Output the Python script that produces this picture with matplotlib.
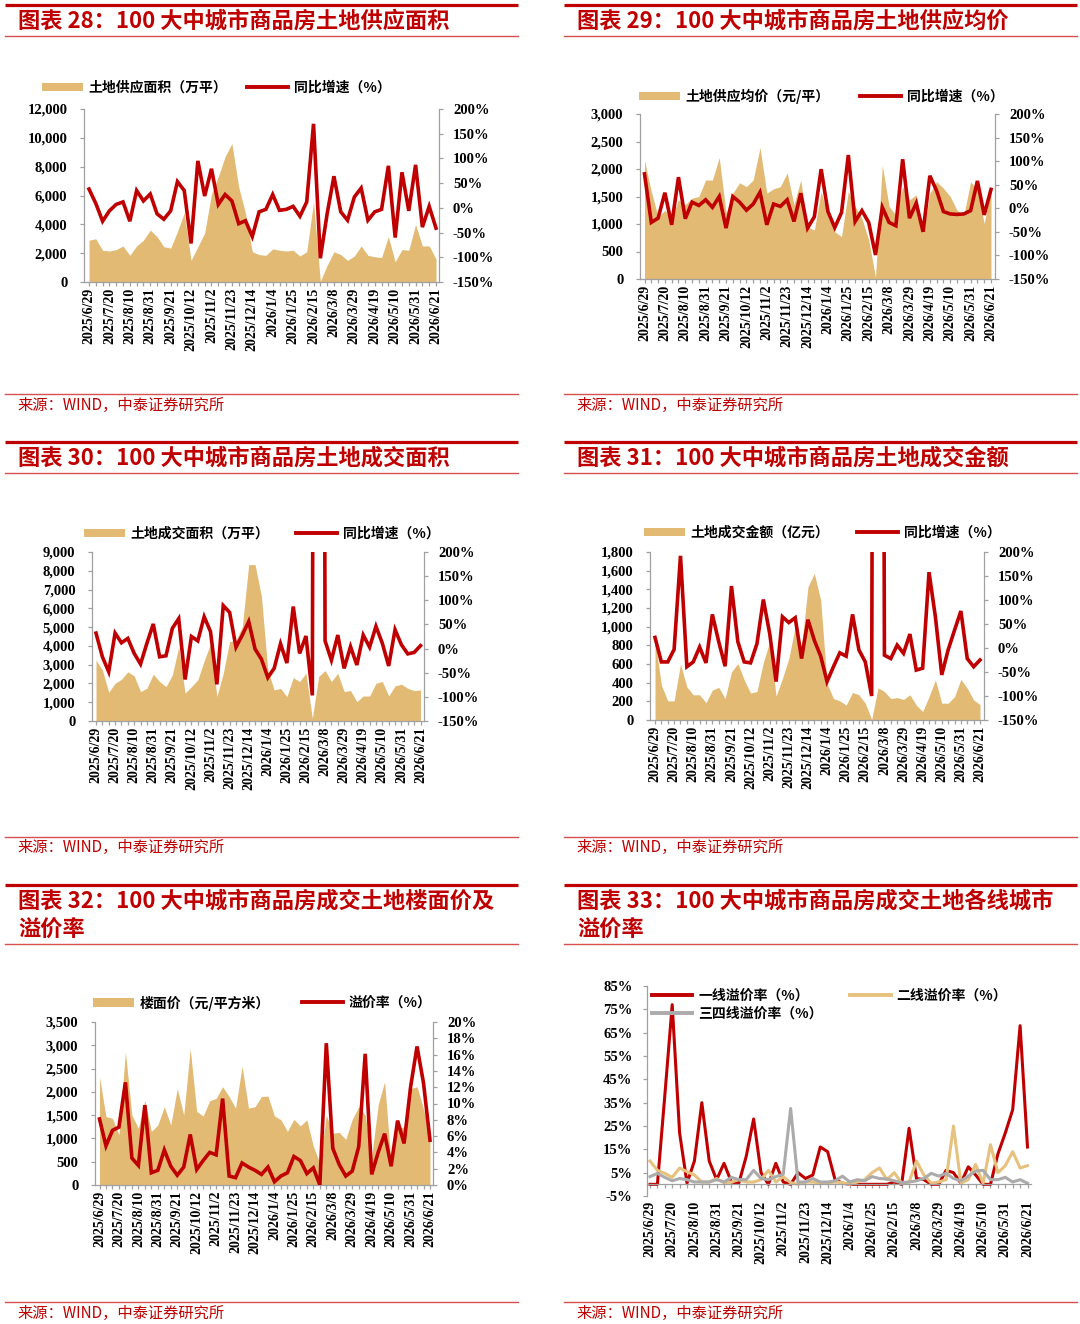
import matplotlib
matplotlib.use('Agg')
import matplotlib.pyplot as plt
from matplotlib.patches import Patch
from matplotlib.lines import Line2D
import numpy as np
import pandas as pd

# Configs
W, H = 1080, 1324
RED = '#C00000'
THIN_RED = '#D65050'
TAN = '#E2BA74'
GOLD = '#E6C27E'
GRAY = '#ABABAB'
AXIS = '#A0A0A0'
CJK = ['Noto Sans CJK SC', 'DejaVu Sans']
NUM = 'Liberation Serif'

plt.rcParams['font.family'] = CJK
plt.rcParams['axes.unicode_minus'] = False

# Weekly categories
dates = pd.date_range('2025-06-29', periods=52, freq='7D')
date_labels = [f'{d.year}/{d.month}/{d.day}' for d in dates]

# Chart 28: land supply area
supply_area = [2900, 3000, 2200, 2150, 2250, 2500, 1850, 2500, 2900, 3600,
               3150, 2450, 2350, 3500, 4800, 1500, 2450, 3400, 6100, 7300,
               8700, 9600, 6600, 4750, 2100, 1900, 1850, 2300, 2200, 2150,
               2200, 1800, 2100, 5550, 50, 1150, 2100, 1900, 1500, 1800,
               2500, 1850, 1750, 1700, 3150, 1400, 2250, 2200, 4000, 2500,
               2500, 1600]
supply_yoy = [38, 9, -27, -6, 7, 12, -27, 35, 14, 28,
              -12, -23, -6, 53, 35, -72, 95, 24, 79, 7,
              27, 14, -32, -26, -58, -8, -3, 27, -5, -3,
              3, -17, 12, 170, -102, -12, 64, -8, -25, 22,
              40, -25, -8, -3, 85, -60, 72, -6, 87, -39,
              3, -41]

# Chart 29: land supply average price
supply_price = [2160, 1590, 1130, 1250, 1100, 1440, 1350, 1470, 1500, 1800,
                1800, 2210, 1200, 1560, 1750, 1680, 1800, 2390, 1560, 1640,
                1680, 1930, 1350, 1800, 950, 890, 1590, 1130, 860, 770,
                1590, 1320, 1100, 710, 30, 2070, 1320, 1160, 1680, 1440,
                1530, 830, 1560, 1770, 1650, 1500, 1250, 1160, 1770, 1620,
                1010, 1640]
price_yoy = [73, -30, -21, 33, -35, 66, -22, 13, 6, 18,
             2, 25, -42, 25, 13, -4, 9, 34, -35, 9,
             4, 18, -28, 32, -42, -18, 83, -7, -41, -9,
             113, -28, -5, -30, -99, 2, -30, -37, 104, -21,
             11, -50, 69, 37, -7, -12, -13, -12, -5, 58,
             -14, 40]

# Chart 30: land deal area
deal_area = [3250, 2720, 1530, 2010, 2220, 2620, 2400, 1570, 1740, 2490,
             2100, 1830, 2450, 3950, 1480, 1830, 2190, 3200, 4120, 1300,
             2540, 4230, 4290, 5030, 8330, 8330, 6640, 2720, 1650, 1740,
             1300, 2310, 2100, 2540, 140, 2370, 2690, 2100, 2540, 1570,
             1620, 1030, 1330, 1330, 2010, 2100, 1330, 1870, 1960, 1740,
             1620, 1650]
deal_yoy = [32, -17, -48, 32, 12, 21, -10, -32, 11, 51,
            -17, -15, 42, 62, -64, 25, 16, 66, 35, -74,
            89, 75, 3, 28, 56, -1, -22, -60, -41, 10,
            -30, 87, -10, 26, -97, 5000, 16, -24, 28, -41,
            4, -34, 28, 3, 46, 11, -36, 39, 8, -11,
            -8, 6]

# Chart 31: land deal amount
deal_amount = [855, 375, 205, 205, 600, 355, 270, 270, 185, 320,
               350, 230, 515, 605, 430, 290, 305, 615, 840, 255,
               445, 660, 1000, 785, 1425, 1570, 1285, 390, 230, 205,
               160, 295, 270, 180, 5, 345, 305, 230, 240, 220,
               270, 160, 90, 250, 430, 180, 180, 250, 435, 340,
               215, 165]
amount_yoy = [22, -29, -29, -3, 192, -39, -29, 2, -31, 70,
              13, -38, 129, 13, -29, -31, 9, 101, 30, -70,
              65, 53, 63, -22, 59, 16, -17, -70, -39, -10,
              -17, 70, -4, -29, -100, 5000, -15, -22, 6, -11,
              29, -46, -42, 158, 65, -56, -4, 37, 77, -22,
              -39, -25]

# Chart 32: floor price and premium rate
floor_price = [2320, 1470, 1430, 1080, 2860, 1500, 1220, 1820, 1150, 1290,
               1680, 1290, 2070, 1500, 2930, 1580, 1480, 1810, 1860, 2110,
               1900, 1650, 2550, 1650, 1680, 1900, 1910, 1480, 1400, 1150,
               1410, 1270, 1400, 830, 470, 1500, 1110, 1130, 980, 1410,
               1680, 1500, 610, 1720, 2220, 430, 1220, 1250, 2070, 2110,
               1630, 1110]
premium = [8.1, 4.8, 6.7, 7.1, 12.6, 3.3, 2.4, 9.8, 1.5, 1.8,
           4.3, 2.3, 1.2, 2.2, 6.2, 1.9, 3.0, 4.0, 3.7, 10.6,
           1.1, 0.9, 2.7, 2.2, 1.8, 1.3, 2.2, 0.4, 1.1, 1.5,
           3.5, 3.0, 1.4, 2.1, 0.0, 17.4, 4.5, 2.5, 1.1, 1.7,
           4.7, 16.1, 1.3, 4.0, 6.3, 2.3, 7.9, 5.1, 12.0, 17.0,
           12.5, 5.5]

# Chart 33: premium rate by city tier
tier1 = [0, 0, 38, 77, 22, 0.5, 10, 35, 10, 2,
         9, 1, 0.5, 12, 28, 5, 0, 9, 1, 0,
         5, 2.5, 4, 16, 14, 2, 0.5, 0, 0, 0,
         0, 0, 0, 1, 0, 24, 2.5, 2, 0, 0,
         6, 5, 0.5, 7.5, 4, 0, 0, 13, 22, 32,
         68, 16]
tier2 = [10, 6, 4.7, 3, 7, 5.4, 4, 1, 1, 2.5,
         0.7, 1, 2, 1, 1, 2, 6, 1, 3.3, 0.7,
         0, 1, 1, 0.5, 0.5, 1, 0.7, 0, 1, 2,
         5, 7, 2, 5, 0.5, 1, 10, 4, 0.5, 1,
         2, 25, 0.5, 2, 8.5, 0.5, 17, 5, 8, 14,
         7, 8]
tier34 = [3.3, 4.7, 3, 1.5, 2.5, 2, 1, 1, 1, 2,
          1, 3, 2, 2, 6, 2.5, 2, 3.3, 4.3, 32.5,
          1, 1, 2.5, 1, 1, 1.5, 3.5, 1, 2, 1.5,
          3.3, 2.5, 2.3, 1.5, 0.7, 1, 1.5, 2.5, 4.7, 3.5,
          4.7, 2.5, 1.5, 3.5, 5.7, 6, 2, 2, 3, 1,
          2, 0.5]

NUMFONT = dict(fontfamily=NUM, fontweight='bold', fontsize=10.5)
DATEFONT = dict(fontfamily=NUM, fontweight='bold', fontsize=10, rotation=90)
LEGFONT = dict(family=CJK, size=10, weight='bold')

fig = plt.figure(figsize=(W / 100, H / 100), dpi=100)
bg = fig.add_axes([0, 0, 1, 1])
bg.set_xlim(0, W)
bg.set_ylim(H, 0)
bg.axis('off')

x = np.arange(len(date_labels))


def make_axes(L, R, first, last, top, bottom):
    ax = fig.add_axes([L / W, 1 - bottom / H, (R - L) / W, (bottom - top) / H])
    step = (last - first) / (len(x) - 1)
    ax.set_xlim(-(first - L) / step, len(x) - 1 + (R - last) / step)
    ax.set_facecolor('none')
    return ax


def date_axis(ax, pad=1):
    ax.set_xticks(x[::3], labels=date_labels[::3], **DATEFONT)
    ax.set_xticks(x, minor=True)
    ax.tick_params(axis='x', which='both', direction='out', length=3,
                   color=AXIS, width=0.9, pad=pad)


def leg_item(handle, label, px, py):
    fig.legend([handle], [label], loc='center left',
               bbox_to_anchor=(px / W, 1 - py / H), bbox_transform=fig.transFigure,
               frameon=False, borderpad=0, borderaxespad=0,
               handlelength=2.95, handleheight=0.55, handletextpad=0.4,
               prop=LEGFONT)


def dual_panel(box, area, line, lmax, lstep, rmin, rmax, rstep, labels, leg_pos):
    ax = make_axes(*box)
    ax.fill_between(x, 0, area, color=TAN, lw=0)
    ax.set_ylim(0, lmax)
    lt = list(range(0, lmax + 1, lstep))
    ax.set_yticks(lt, labels=[f'{v:,}' for v in lt], **NUMFONT)
    ax.tick_params(axis='y', direction='out', length=3, color=AXIS, width=0.9, pad=9)
    date_axis(ax)
    ax.spines[['top', 'right']].set_visible(False)
    ax.spines[['left', 'bottom']].set_color(AXIS)
    ax.spines[['left', 'bottom']].set_linewidth(0.9)

    ax2 = ax.twinx()
    ax2.plot(x, line, color=RED, lw=2.6, solid_joinstyle='miter')
    ax2.set_ylim(rmin, rmax)
    rt = list(range(rmin, rmax + 1, rstep))
    ax2.set_yticks(rt, labels=[f'{v}%' for v in rt], **NUMFONT)
    ax2.tick_params(axis='y', direction='out', length=3, color=AXIS, width=0.9, pad=7)
    ax2.spines[['top', 'left', 'bottom']].set_visible(False)
    ax2.spines['right'].set_color(AXIS)
    ax2.spines['right'].set_linewidth(0.9)

    leg_item(Patch(facecolor=TAN, lw=0), labels[0], *leg_pos[0])
    leg_item(Line2D([], [], color=RED, lw=2.8), labels[1], *leg_pos[1])


def frame(x0, x1, top, titles, thin, src_line, src_y):
    bg.plot([x0, x1], [top, top], color=RED, lw=2.3, solid_capstyle='butt')
    for t, ty in titles:
        bg.text(x0 + 13, ty, t, fontsize=16, fontweight='bold', color=RED,
                va='center', ha='left')
    bg.plot([x0, x1], [thin, thin], color=THIN_RED, lw=1.0)
    bg.plot([x0, x1], [src_line, src_line], color=THIN_RED, lw=1.0)
    bg.text(x0 + 12, src_y, '来源：WIND，中泰证券研究所', fontsize=11, color=RED,
            va='center', ha='left')


# Frames, titles, sources
frame(5, 518, 5, [('图表 28：100 大中城市商品房土地供应面积', 21.5)], 36, 394, 405)
frame(564, 1077, 5, [('图表 29：100 大中城市商品房土地供应均价', 21.5)], 36, 394, 405)
frame(5, 518, 441.5, [('图表 30：100 大中城市商品房土地成交面积', 458)], 472.5, 836.5, 847)
frame(564, 1077, 441.5, [('图表 31：100 大中城市商品房土地成交金额', 458)], 472.5, 836.5, 847)
frame(5, 518, 884.5, [('图表 32：100 大中城市商品房成交土地楼面价及', 901.5), ('溢价率', 929)],
      943.5, 1301.5, 1313)
frame(564, 1077, 884.5, [('图表 33：100 大中城市商品房成交土地各线城市', 901.5), ('溢价率', 929)],
      943.5, 1301.5, 1313)

# Chart 28
dual_panel((84, 439, 89, 436, 109, 282), supply_area, supply_yoy,
           12000, 2000, -150, 200, 50,
           ['土地供应面积（万平）', '同比增速（%）'], [(42, 88), (247, 88)])
# Chart 29
dual_panel((640, 995, 644.5, 991, 114, 279), supply_price, price_yoy,
           3000, 500, -150, 200, 50,
           ['土地供应均价（元/平）', '同比增速（%）'], [(639, 96.5), (860, 96.5)])
# Chart 30
dual_panel((92, 424, 96, 420.5, 552, 721), deal_area, deal_yoy,
           9000, 1000, -150, 200, 50,
           ['土地成交面积（万平）', '同比增速（%）'], [(84, 534), (296, 534)])
# Chart 31
dual_panel((650, 984, 655, 980, 552, 720), deal_amount, amount_yoy,
           1800, 200, -150, 200, 50,
           ['土地成交金额（亿元）', '同比增速（%）'], [(644, 533), (857, 533)])
# Chart 32
dual_panel((95, 433, 99.5, 430, 1022, 1185), floor_price, premium,
           3500, 500, 0, 20, 2,
           ['楼面价（元/平方米）', '溢价率（%）'], [(93, 1003), (302, 1003)])

# Chart 33
ax = make_axes(646.5, 1031, 650, 1027.5, 986, 1196)
ax.plot(x, tier1, color=RED, lw=2.2)
ax.plot(x, tier2, color=GOLD, lw=2.2)
ax.plot(x, tier34, color=GRAY, lw=2.2)
ax.set_ylim(-5, 85)
ax.spines['bottom'].set_position(('data', 0))
ax.spines[['top', 'right']].set_visible(False)
ax.spines[['left', 'bottom']].set_color(AXIS)
ax.spines[['left', 'bottom']].set_linewidth(0.9)
yt = list(range(-5, 86, 10))
ax.set_yticks(yt, labels=[f'{v}%' for v in yt], **NUMFONT)
ax.tick_params(axis='y', direction='out', length=3, color=AXIS, width=0.9, pad=7)
date_axis(ax, pad=9)
leg_item(Line2D([], [], color=RED, lw=2.8), '一线溢价率（%）', 651.5, 996)
leg_item(Line2D([], [], color=GOLD, lw=2.8), '二线溢价率（%）', 850, 996)
leg_item(Line2D([], [], color=GRAY, lw=2.8), '三四线溢价率（%）', 651.5, 1014)

fig.savefig('out.png', dpi=100)
